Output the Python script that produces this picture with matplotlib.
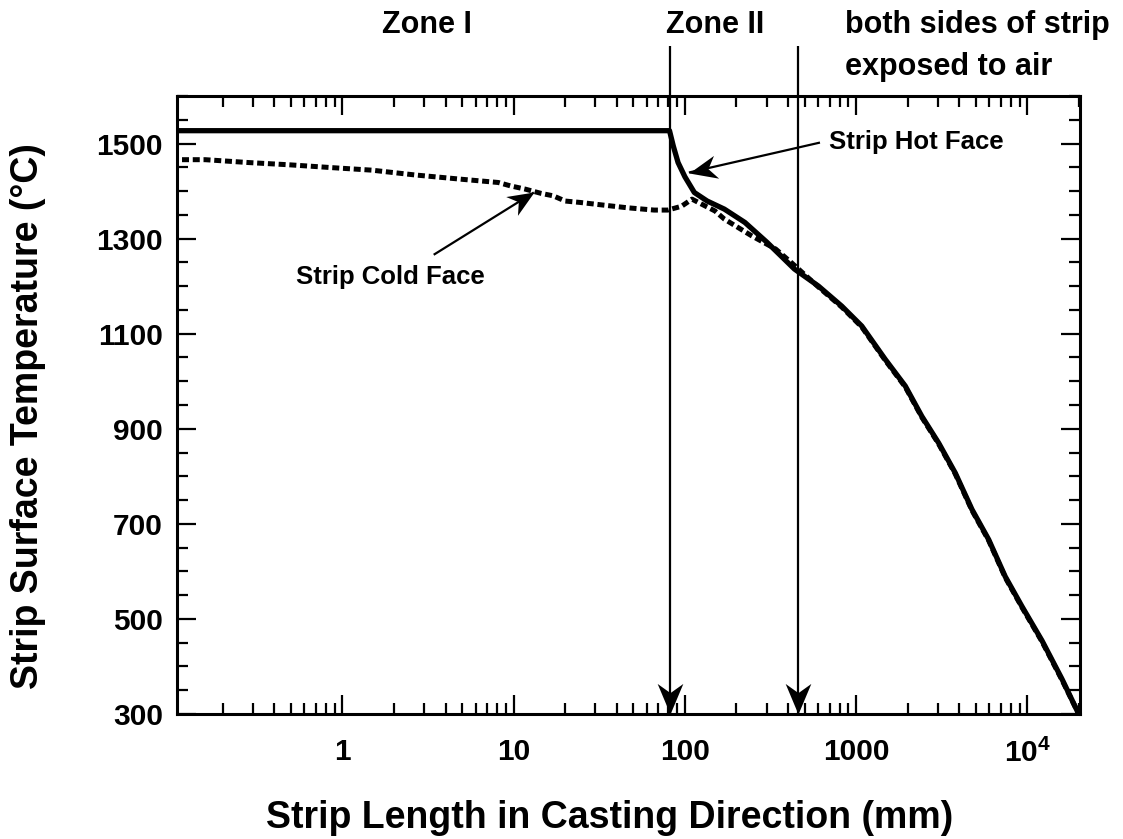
import numpy as np
import matplotlib
matplotlib.use('Agg')
import matplotlib.pyplot as plt
from matplotlib.markers import MarkerStyle
from matplotlib.path import Path
from matplotlib.transforms import Affine2D
from matplotlib.ticker import FixedLocator, LogLocator, NullFormatter

plt.rcParams['font.family'] = ['Liberation Sans', 'DejaVu Sans']
plt.rcParams['font.weight'] = 'bold'
plt.rcParams['mathtext.fontset'] = 'custom'
plt.rcParams['mathtext.rm'] = 'Liberation Sans:bold'
plt.rcParams['mathtext.bf'] = 'Liberation Sans:bold'

# Strip hot face (mm, degC)
hot_x = [0.1, 81.3, 85.5, 91.2, 100, 113.5, 135, 170, 224, 302, 436, 603,
         824, 1079, 1479, 1936, 2421, 3034, 3793, 4753, 5943, 7430, 9311,
         12190, 15960, 19950]
hot_t = [1527, 1527, 1495, 1460, 1430, 1397, 1379, 1362, 1334, 1292, 1236,
         1200, 1158, 1116, 1046, 990, 926, 870, 807, 730, 667, 589, 526,
         454, 373, 300]

# Strip cold face (mm, degC)
cold_x = [0.1, 0.158, 0.282, 0.501, 0.891, 1.48, 2.63, 4.9, 8.13, 9.55, 11.7,
          14.5, 17.0, 20, 24.5, 32.4, 45.7, 66.1, 79.4, 95.5, 110, 126, 150,
          170, 245, 339, 417, 603, 824, 1079, 1479, 1936, 2421, 3034, 3793,
          4753, 5943, 7430, 9311, 12190, 15960, 19950]
cold_t = [1466, 1466, 1460, 1455, 1449, 1444, 1434, 1425, 1418, 1411, 1404,
          1395, 1390, 1379, 1376, 1371, 1365, 1360, 1360, 1368, 1383, 1372, 1358,
          1341, 1306, 1278, 1250, 1198, 1156, 1114, 1044, 988, 924, 868, 805,
          728, 665, 587, 524, 452, 371, 300]

# zone boundaries (mm)
zone_x = [81.3, 455]

x_ticks = [1, 10, 100, 1000, 10000]
x_labels = ['1', '10', '100', '1000', r'$10^4$']
y_ticks = [300, 500, 700, 900, 1100, 1300, 1500]

fig = plt.figure(figsize=(11.23, 8.39), dpi=100)
ax = fig.add_axes([0.1576, 0.149, 0.8041, 0.7366])

ax.plot(cold_x, cold_t, color='black', lw=3.6, linestyle=(0, (1.4, 0.75)),
        dash_capstyle='butt', zorder=2)
ax.plot(hot_x, hot_t, color='black', lw=3.8, solid_capstyle='butt', zorder=3)

ax.set_xscale('log')
ax.set_xlim(0.108, 20300)
ax.set_ylim(300, 1600)

# notched arrow head, pointing along +x with the tip at the origin
head_path = Path([(0, 0), (-1, 0.42), (-0.7, 0), (-1, -0.42), (0, 0)],
                 [Path.MOVETO, Path.LINETO, Path.LINETO, Path.LINETO,
                  Path.CLOSEPOLY])


def arrow(tail, tip, size=44):
    ax.plot([tail[0], tip[0]], [tail[1], tip[1]], color='black', lw=1.6,
            solid_capstyle='butt', clip_on=False, zorder=4)
    p0 = ax.transData.transform(tail)
    p1 = ax.transData.transform(tip)
    ang = np.degrees(np.arctan2(p1[1] - p0[1], p1[0] - p0[0]))
    m = MarkerStyle(head_path, transform=Affine2D().rotate_deg(ang))
    ax.plot([tip[0]], [tip[1]], marker=m, markersize=size, color='black',
            markeredgewidth=0, linestyle='none', clip_on=False, zorder=5)


for zx in zone_x:
    arrow((zx, 1705), (zx, 300))

# labels on the curves
ax.text(1.9, 1219, 'Strip Cold Face', fontsize=18.5, ha='center', va='center')
arrow((3.41, 1266), (13.1, 1397), size=38)
ax.text(692, 1503, 'Strip Hot Face', fontsize=18.5, ha='left', va='center')
arrow((615, 1502), (105.5, 1439), size=40)

# ticks
ax.xaxis.set_major_locator(FixedLocator(x_ticks))
ax.set_xticklabels(x_labels)
ax.xaxis.set_minor_locator(LogLocator(base=10, subs=range(2, 10), numticks=20))
ax.xaxis.set_minor_formatter(NullFormatter())
ax.set_yticks(y_ticks)
ax.yaxis.set_minor_locator(FixedLocator(range(300, 1601, 50)))
ax.tick_params(which='both', direction='in', top=True, right=True,
               width=1.6, labelsize=21.5)
ax.tick_params(which='major', length=14)
ax.tick_params(which='minor', length=8)
ax.tick_params(axis='x', pad=17)
ax.tick_params(axis='y', pad=10)
for s in ax.spines.values():
    s.set_linewidth(2.2)

# zone headings
fig.text(427 / 1123, 1 - 25 / 839, 'Zone I', fontsize=22, ha='center', va='center')
fig.text(715 / 1123, 1 - 25 / 839, 'Zone II', fontsize=22, ha='center', va='center')
fig.text(845 / 1123, 1 - 25 / 839, 'both sides of strip', fontsize=22,
         ha='left', va='center')
fig.text(845 / 1123, 1 - 67 / 839, 'exposed to air', fontsize=22,
         ha='left', va='center')

fig.text(610 / 1123, 1 - 818 / 839, 'Strip Length in Casting Direction (mm)',
         fontsize=27, ha='center', va='center')
fig.text(28 / 1123, 1 - 416 / 839, 'Strip Surface Temperature (°C)',
         fontsize=27, ha='center', va='center', rotation=90)

fig.savefig('out.png', dpi=100)
